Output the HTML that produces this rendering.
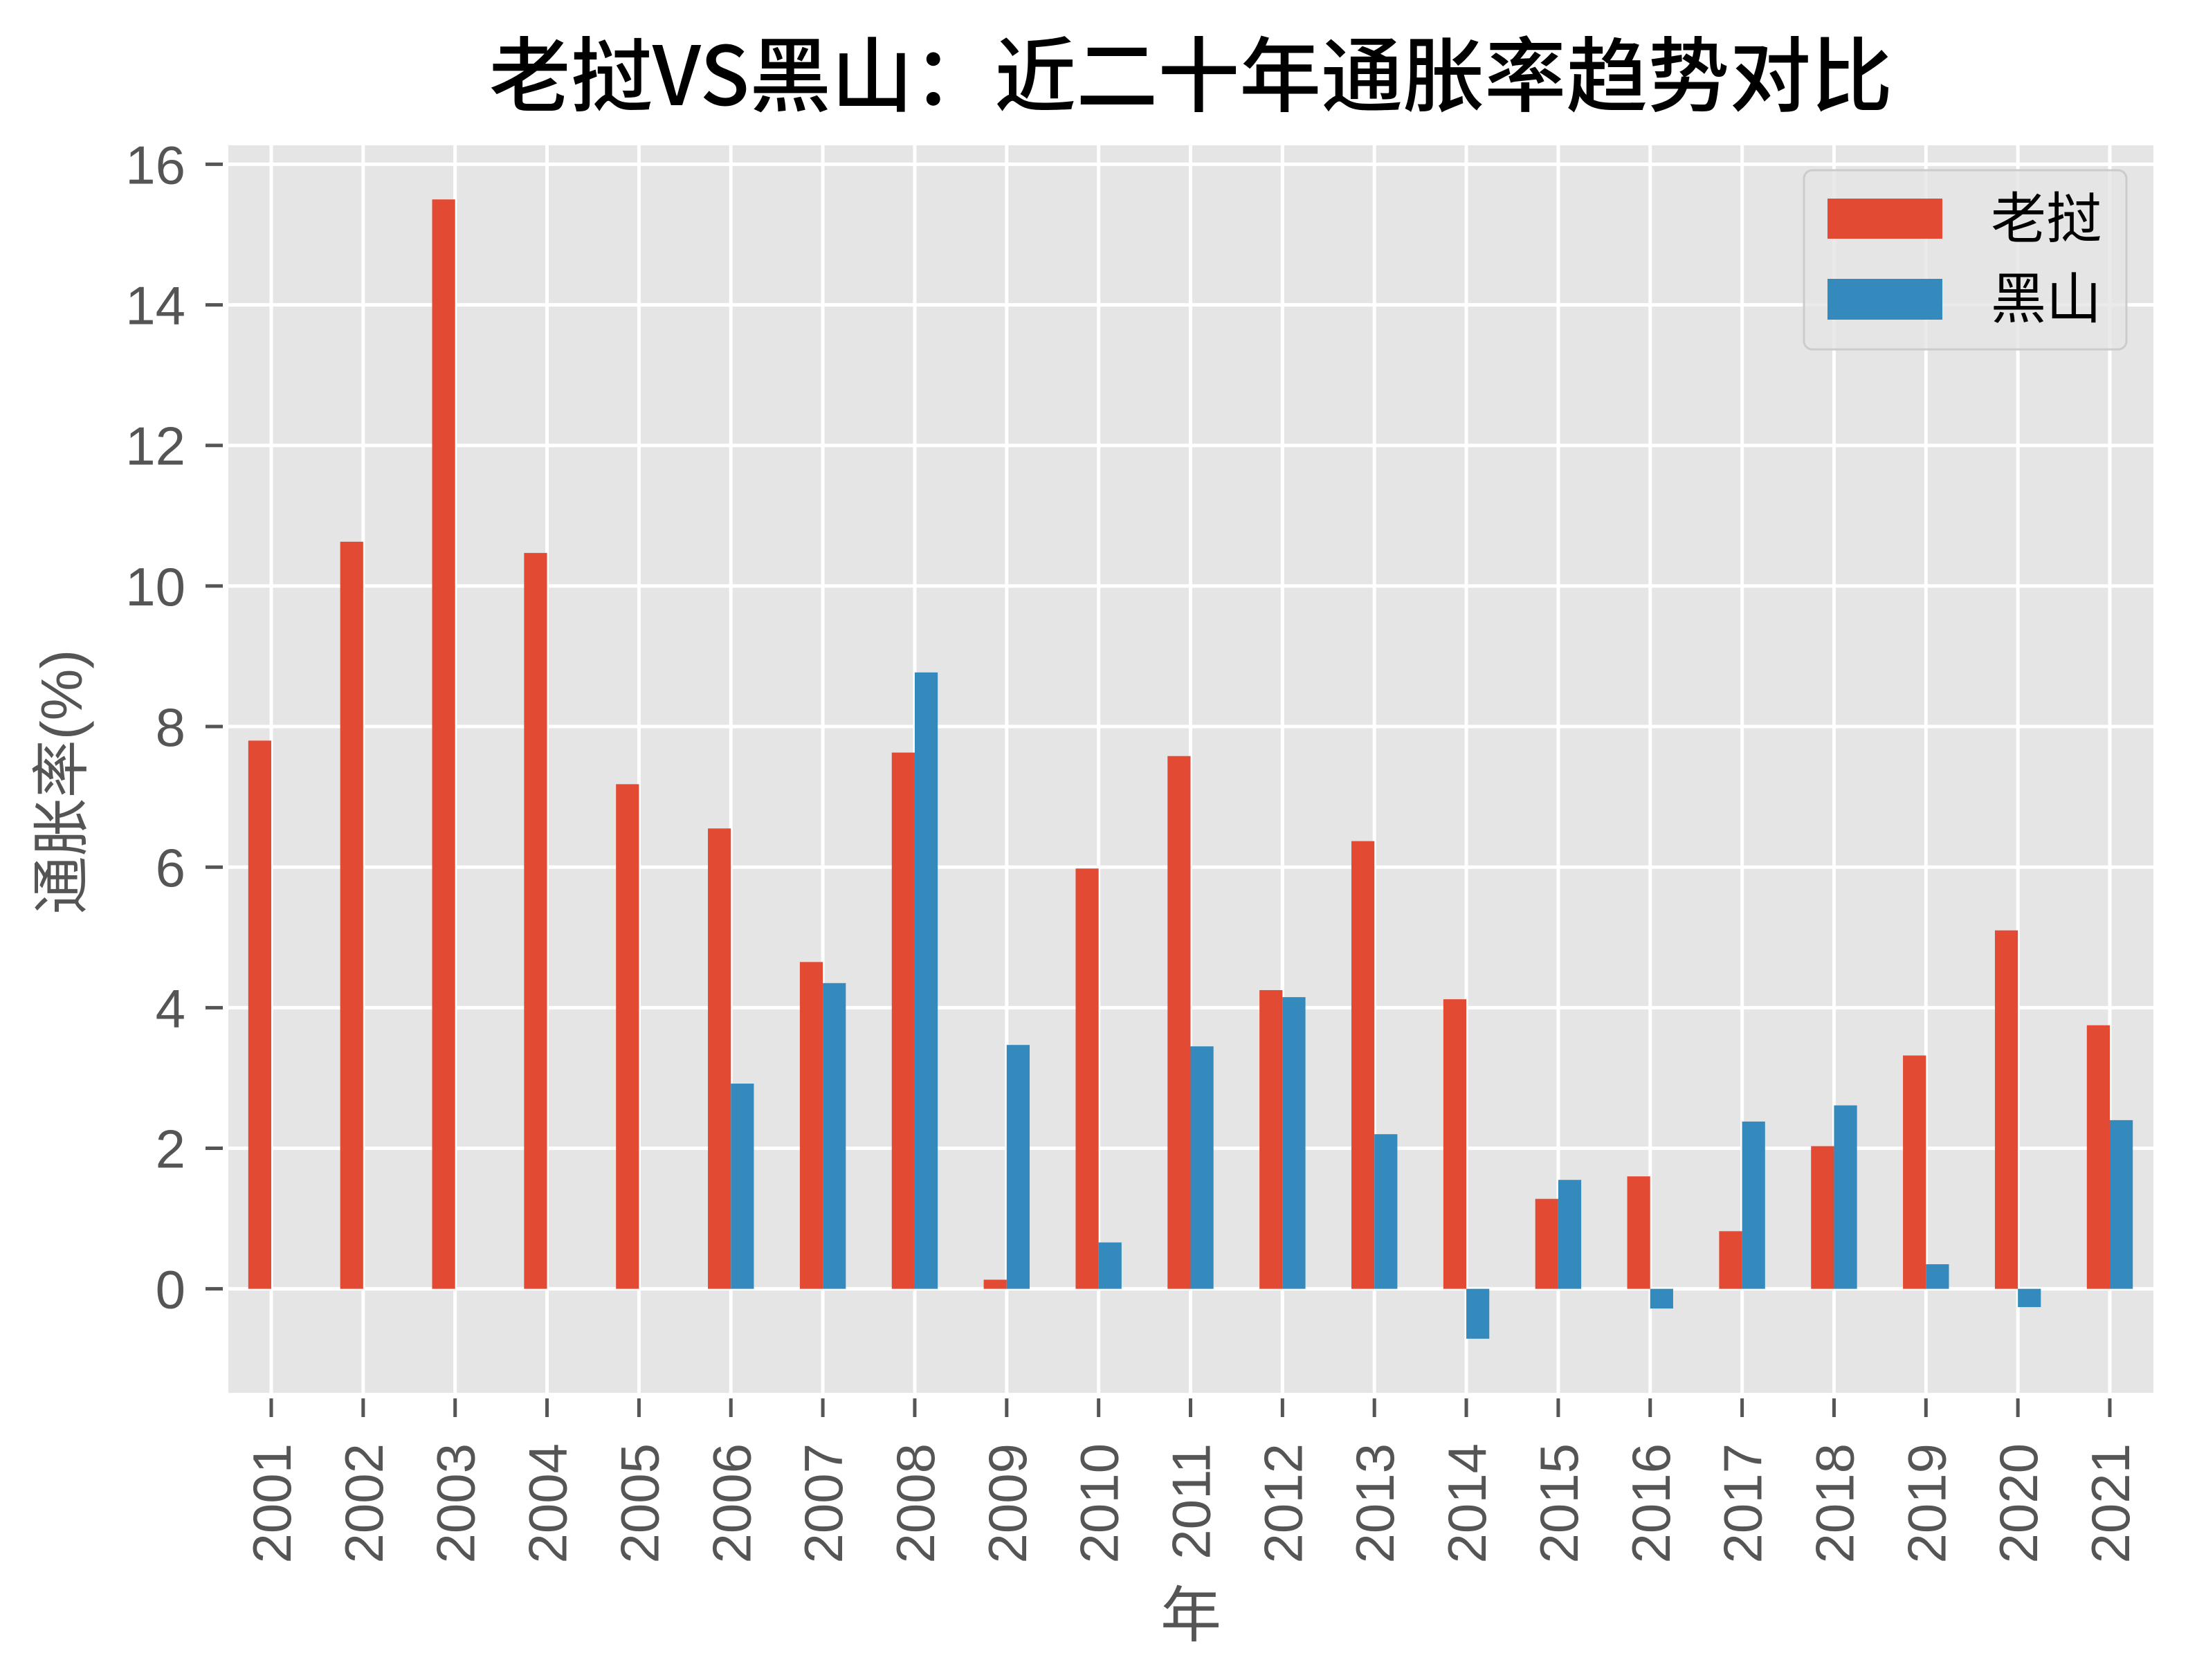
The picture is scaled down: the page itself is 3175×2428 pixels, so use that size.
<!DOCTYPE html>
<html><head><meta charset="utf-8"><style>
html,body{margin:0;padding:0;background:#fff}
svg{display:block}
text{font-family:"Liberation Sans","Noto Sans CJK SC",sans-serif}
</style></head><body>
<svg id="chart" width="3175" height="2428" viewBox="0 0 3175 2428" xmlns="http://www.w3.org/2000/svg">
<text x="1721" y="152" text-anchor="middle" font-size="118" font-weight="500" fill="#000" style="font-family:'Noto Sans CJK SC','WenQuanYi Zen Hei',sans-serif">老挝VS黑山：近二十年通胀率趋势对比</text>
<rect x="330" y="210" width="2782" height="1803" fill="#e5e5e5"/>
<g id="grid"></g>
<g id="bars"></g>
<g id="axes"></g>
<text transform="translate(118,1130) rotate(-90)" text-anchor="middle" font-size="84" fill="#555">通胀率(%)</text>
<text x="1721" y="2365" text-anchor="middle" font-size="88" fill="#555">年</text>
<g>
<rect x="2607" y="246" width="466" height="259" rx="12" fill="#e5e5e5" fill-opacity="0.8" stroke="#ccc" stroke-width="3"/>
<rect x="2641" y="287" width="166" height="58" fill="#e24a33"/>
<text x="2877" y="344" font-size="80" fill="#000">老挝</text>
<rect x="2641" y="403" width="166" height="59" fill="#348abd"/>
<text x="2877" y="460" font-size="80" fill="#000">黑山</text>
</g>
</svg>
<script>
const years = ["2001","2002","2003","2004","2005","2006","2007","2008","2009","2010","2011","2012","2013","2014","2015","2016","2017","2018","2019","2020","2021"];
const laos = [7.8,10.63,15.5,10.47,7.18,6.55,4.65,7.63,0.13,5.98,7.58,4.25,6.37,4.12,1.28,1.6,0.82,2.03,3.32,5.1,3.75];
const montenegro = [0,0,0,0,0,2.92,4.35,8.77,3.47,0.66,3.45,4.15,2.2,-0.71,1.55,-0.28,2.38,2.61,0.35,-0.26,2.4];
const yTicks = [0,2,4,6,8,10,12,14,16];

const NS = "http://www.w3.org/2000/svg";
const L = 330, R = 3112, T = 210, B = 2013;
const yMin = -1.48, yMax = 16.27;
function xPos(i){ return 392 + i * ((3049 - 392) / (years.length - 1)); }
function yPos(v){ return B - (v - yMin) / (yMax - yMin) * (B - T); }
const bw = 33.2;
function mk(tag, attrs, parent){
  const e = document.createElementNS(NS, tag);
  for (const k in attrs) e.setAttribute(k, attrs[k]);
  parent.appendChild(e);
  return e;
}
const grid = document.getElementById('grid');
const bars = document.getElementById('bars');
const axes = document.getElementById('axes');
yTicks.forEach(t => {
  const y = yPos(t);
  const g = mk('line', {x1:L, x2:R, y1:y, y2:y, stroke:'#fff', 'stroke-width':5}, grid);
  
  
  const tk = mk('line', {x1:297, x2:322, y1:y, y2:y, stroke:'#555', 'stroke-width':5}, axes);
  
  
  const lb = mk('text', {x:268, y:y + 28, 'text-anchor':'end', 'font-size':78, fill:'#555'}, axes);
  lb.textContent = String(t);
  
  
});
years.forEach((yr, i) => {
  const x = xPos(i);
  const g = mk('line', {x1:x, x2:x, y1:T, y2:B, stroke:'#fff', 'stroke-width':5}, grid);
  
  
  const tk = mk('line', {x1:x, x2:x, y1:2021, y2:2048, stroke:'#555', 'stroke-width':5}, axes);
  
  
  const lb = mk('text', {transform:'translate(' + (x + 28) + ',2086) rotate(-90)', 'text-anchor':'end', 'font-size':78, fill:'#555'}, axes);
  lb.textContent = yr;
  
  
  const y0 = yPos(0);
  const a = laos[i], yA = yPos(a);
  const r1 = mk('rect', {x:x - bw, y:Math.min(y0, yA), width:bw, height:Math.abs(y0 - yA), fill:'#e24a33'}, bars);
  
  
  const b = montenegro[i], yB = yPos(b);
  const r2 = mk('rect', {x:x, y:Math.min(y0, yB), width:bw, height:Math.abs(y0 - yB), fill:'#348abd'}, bars);
  
  
});
</script>
</body></html>
